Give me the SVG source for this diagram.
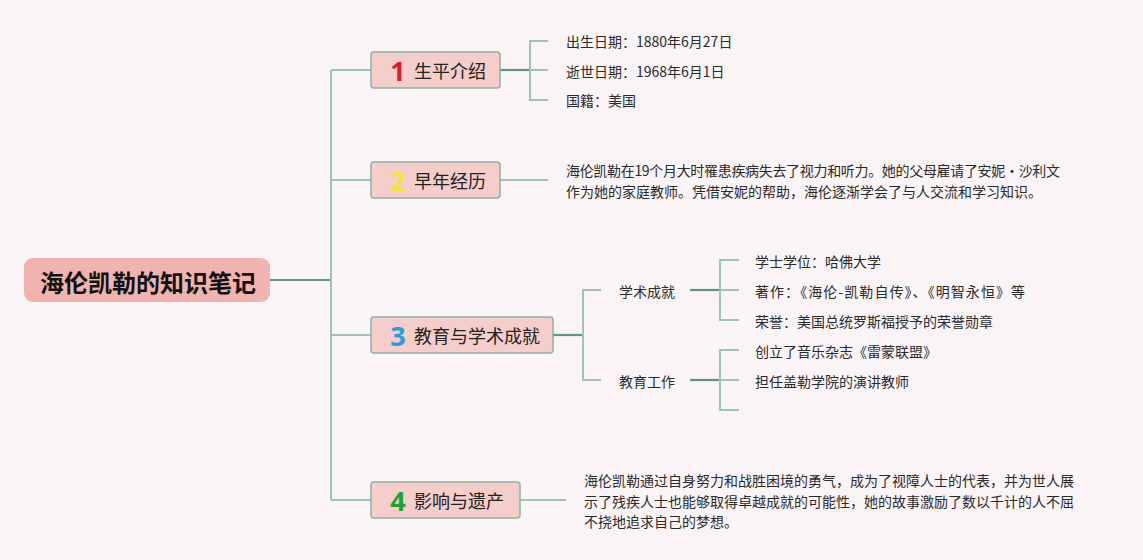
<svg xmlns="http://www.w3.org/2000/svg" width="1143" height="560" viewBox="0 0 1143 560">
<style>
.bg{fill:#faf4f6}
.lt{stroke:#9ec4b6;stroke-width:2;fill:none}
.dk{stroke:#5e9585;stroke-width:2.2;fill:none}
.box{fill:#f5cdca;stroke:#8fb0a5;stroke-width:1.5}
.root{fill:#f0b3b0}
.t{font-family:"Noto Sans CJK SC","Noto Sans",sans-serif;fill:#222;dominant-baseline:central}
.rt{font-size:24px;font-weight:bold;fill:#111}
.mt{font-size:18px}
.num{font-family:"Noto Sans","Liberation Sans",sans-serif;font-size:27px;font-weight:bold;dominant-baseline:central}
.st{font-size:14px;fill:#2a2a2a}
</style>
<rect class="bg" x="0" y="0" width="1143" height="560"/>
<g id="connectors">
<path class="dk" d="M270 280H331"/>
<path class="lt" d="M331 70V500"/>
<path class="lt" d="M331 70H371M331 180H371M331 335H371M331 500H371"/>
<path class="dk" d="M500 70H530"/>
<path class="lt" d="M548 41H530V100H548M530 70H548"/>
<path class="lt" d="M500 180H548"/>
<path class="dk" d="M553 335H583"/>
<path class="lt" d="M601 290H583V380H601"/>
<path class="dk" d="M690 290H720"/>
<path class="lt" d="M739 260H720V320H739M720 290H739"/>
<path class="dk" d="M690 380H720"/>
<path class="lt" d="M739 350H720V410H739M720 380H739"/>
<path class="lt" d="M520 500H566"/>
</g>
<g id="root">
<rect class="root" x="24" y="258" width="246" height="44" rx="9"/>
<text class="t rt" x="148" y="281" text-anchor="middle">海伦凯勒的知识笔记</text>
</g>
<g id="n1">
<rect class="box" x="371" y="52" width="129" height="36" rx="3"/>
<text class="num" x="398" y="70" text-anchor="middle" fill="#d81e2c">1</text>
<text class="t mt" x="414" y="70">生平介绍</text>
</g>
<g id="n1-1"><text class="t st" x="566" y="41">出生日期：1880年6月27日</text></g>
<g id="n1-2"><text class="t st" x="566" y="71">逝世日期：1968年6月1日</text></g>
<g id="n1-3"><text class="t st" x="566" y="100">国籍：美国</text></g>
<g id="n2">
<rect class="box" x="371" y="162" width="129" height="36" rx="3"/>
<text class="num" x="398" y="180" text-anchor="middle" fill="#f5e03c">2</text>
<text class="t mt" x="414" y="180">早年经历</text>
</g>
<g id="n2-1">
<text class="t st" x="566" y="170" textLength="494" lengthAdjust="spacing">海伦凯勒在19个月大时罹患疾病失去了视力和听力。她的父母雇请了安妮·沙利文</text>
<text class="t st" x="566" y="191">作为她的家庭教师。凭借安妮的帮助，海伦逐渐学会了与人交流和学习知识。</text>
</g>
<g id="n3">
<rect class="box" x="371" y="317" width="182" height="36" rx="3"/>
<text class="num" x="398" y="335" text-anchor="middle" fill="#2a9ddb">3</text>
<text class="t mt" x="414" y="335">教育与学术成就</text>
</g>
<g id="n3-1"><text class="t st" x="619" y="291">学术成就</text></g>
<g id="n3-1-1"><text class="t st" x="755" y="261">学士学位：哈佛大学</text></g>
<g id="n3-1-2"><text class="t st" x="755" y="291" textLength="270" lengthAdjust="spacing">著作：《海伦-凯勒自传》、《明智永恒》等</text></g>
<g id="n3-1-3"><text class="t st" x="755" y="321">荣誉：美国总统罗斯福授予的荣誉勋章</text></g>
<g id="n3-2"><text class="t st" x="619" y="381">教育工作</text></g>
<g id="n3-2-1"><text class="t st" x="755" y="351">创立了音乐杂志《雷蒙联盟》</text></g>
<g id="n3-2-2"><text class="t st" x="755" y="381">担任盖勒学院的演讲教师</text></g>
<g id="n4">
<rect class="box" x="371" y="482" width="149" height="36" rx="3"/>
<text class="num" x="398" y="500" text-anchor="middle" fill="#22a032">4</text>
<text class="t mt" x="414" y="500">影响与遗产</text>
</g>
<g id="n4-1">
<text class="t st" x="584" y="480">海伦凯勒通过自身努力和战胜困境的勇气，成为了视障人士的代表，并为世人展</text>
<text class="t st" x="584" y="501">示了残疾人士也能够取得卓越成就的可能性，她的故事激励了数以千计的人不屈</text>
<text class="t st" x="584" y="521">不挠地追求自己的梦想。</text>
</g>
</svg>
